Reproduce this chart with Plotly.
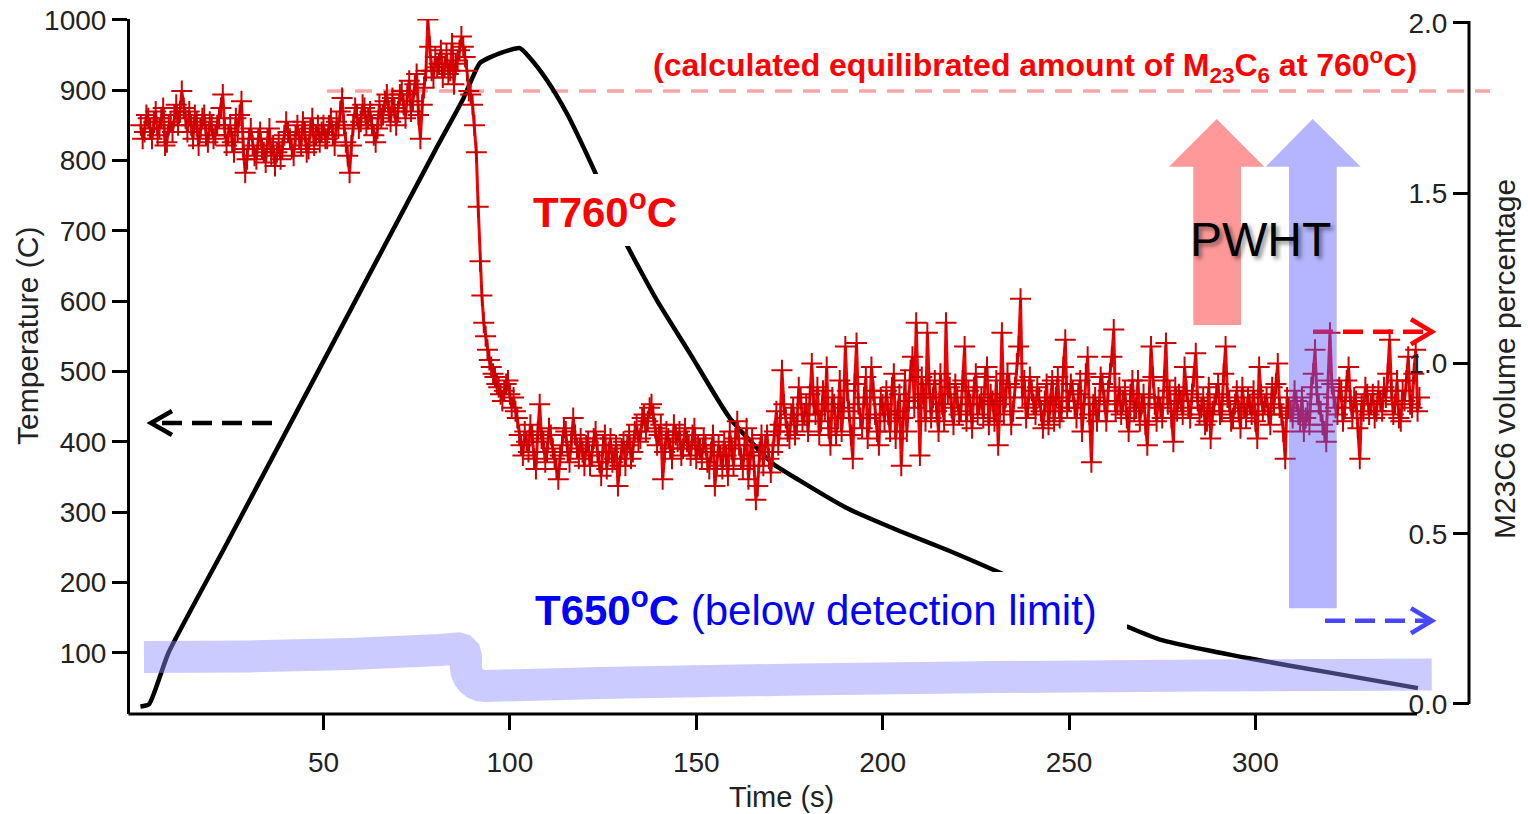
import plotly.graph_objects as go

# ---------------- data ----------------
# Thermal cycle (left axis, temperature in C)
black_t = [0.9, 3.2, 8.4, 23.5, 50, 80, 87.5, 92, 97.4, 102.7, 105.4, 110, 115.3, 122.3,
           131.4, 139.5, 148.3, 159, 170.6, 177.8, 190.4, 204.7, 218, 231.5, 245,
           265.8, 274.4, 298.6, 320, 343.6]
black_T = [24, 27, 100, 250, 515, 815, 888, 939, 953, 960, 946, 914, 867, 790,
           680, 601, 526, 434, 369, 345, 306, 273, 245, 214, 181,
           137, 119, 92, 72, 50]

# M23C6 volume percentage for T760C (right axis), samples at whole seconds t = 1..344 s
red_v_whole = [
    1.70, 1.68, 1.72, 1.66, 1.74, 1.69, 1.75, 1.65, 1.71, 1.73,
    1.70, 1.80, 1.72, 1.74, 1.66, 1.71, 1.69, 1.73, 1.65, 1.70,
    1.67, 1.72, 1.79, 1.64, 1.70, 1.62, 1.68, 1.77, 1.56, 1.66,
    1.64, 1.60, 1.68, 1.62, 1.66, 1.61, 1.58, 1.65, 1.63, 1.71,
    1.66, 1.61, 1.70, 1.64, 1.68, 1.63, 1.72, 1.67, 1.65, 1.70,
    1.66, 1.72, 1.64, 1.69, 1.78, 1.65, 1.56, 1.70, 1.73, 1.71,
    1.75, 1.72, 1.70, 1.65, 1.76, 1.73, 1.79, 1.71, 1.75, 1.74,
    1.80, 1.72, 1.83, 1.77, 1.85, 1.66, 1.81, 2.01, 1.86, 1.90,
    1.88, 1.84, 1.91, 1.86, 1.82, 1.89, 1.96, 1.90, 1.80, 1.76,
    1.62, 1.30, 1.12, 1.04, 0.99, 0.96, 0.93, 0.89, 0.94, 0.91,
    0.90, 0.84, 0.76, 0.80, 0.74, 0.79, 0.69, 0.88, 0.77, 0.74,
    0.79, 0.72, 0.66, 0.76, 0.80, 0.71, 0.84, 0.75, 0.78, 0.70,
    0.77, 0.73, 0.80, 0.71, 0.76, 0.69, 0.78, 0.72, 0.64, 0.75,
    0.70, 0.79, 0.74, 0.82, 0.78, 0.85, 0.83, 0.88, 0.81, 0.79,
    0.66, 0.80, 0.75, 0.82, 0.77, 0.73, 0.81, 0.76, 0.79, 0.72,
    0.75, 0.78, 0.71, 0.74, 0.64, 0.76, 0.69, 0.73, 0.80, 0.70,
    0.83, 0.72, 0.76, 0.66, 0.78, 0.60, 0.74, 0.70, 0.79, 0.68,
    0.80, 0.76, 0.98, 0.84, 0.78, 0.87, 0.82, 0.90, 0.85, 0.80,
    1.00, 0.85, 0.79, 0.92, 0.99, 0.76, 0.88, 0.84, 0.80, 1.05,
    0.86, 0.72, 1.06, 0.84, 0.90, 0.78, 0.99, 0.85, 0.76, 0.88,
    0.92, 0.80, 0.97, 0.86, 0.70, 0.95, 0.89, 1.02, 1.12, 0.73,
    0.91, 1.09, 0.84, 0.95, 0.80, 0.88, 1.12, 0.93, 0.82, 0.90,
    0.86, 1.05, 0.92, 0.81, 0.97, 0.88, 0.84, 0.99, 0.91, 0.83,
    0.76, 1.09, 0.90, 0.94, 0.86, 1.00, 1.19, 0.95, 0.87, 0.92,
    0.85, 0.90, 0.81, 0.94, 0.88, 0.83, 0.96, 0.86, 1.07, 0.89,
    0.92, 0.84, 0.95, 0.88, 1.02, 0.71, 0.90, 0.86, 0.94, 0.83,
    0.97, 1.10, 0.88, 0.85, 0.92, 0.80, 0.95, 0.87, 0.83, 0.91,
    0.76, 1.05, 0.88, 0.90, 0.84, 1.06, 0.92, 0.77, 0.86, 0.89,
    0.99, 0.87, 0.91, 1.03, 0.85, 0.90, 0.83, 0.78, 0.88, 0.94,
    0.86, 1.05, 0.89, 0.84, 0.92, 0.81, 0.87, 0.90, 0.85, 0.83,
    0.99, 0.86, 0.90, 0.82, 0.88, 1.00, 0.85, 0.72, 0.87, 0.84,
    0.89, 0.83, 0.80, 0.86, 0.93, 1.04, 0.88, 0.82, 0.77, 1.09,
    0.90, 0.85, 0.92, 0.87, 0.99, 0.84, 0.89, 0.72, 0.86, 0.91,
    0.88, 0.84, 0.92, 0.86, 0.90, 1.07, 0.85, 0.95, 0.83, 0.89,
    1.02, 0.87, 1.04, 0.90,
]
# samples at half seconds t = 1.5 .. 343.5 s
red_v_half = [
    1.66, 1.73, 1.69, 1.71, 1.67, 1.72, 1.64, 1.70, 1.68, 1.76,
    1.74, 1.75, 1.68, 1.70, 1.73, 1.64, 1.72, 1.67, 1.71, 1.66,
    1.70, 1.75, 1.69, 1.67, 1.65, 1.72, 1.73, 1.63, 1.60, 1.69,
    1.61, 1.66, 1.63, 1.59, 1.69, 1.64, 1.62, 1.60, 1.67, 1.68,
    1.63, 1.67, 1.66, 1.71, 1.62, 1.69, 1.64, 1.70, 1.68, 1.66,
    1.70, 1.67, 1.71, 1.74, 1.70, 1.61, 1.64, 1.75, 1.69, 1.76,
    1.70, 1.74, 1.67, 1.69, 1.72, 1.77, 1.74, 1.78, 1.70, 1.79,
    1.76, 1.79, 1.74, 1.82, 1.73, 1.76, 1.86, 1.93, 1.84, 1.87,
    1.92, 1.87, 1.85, 1.94, 1.88, 1.92, 1.93, 1.86, 1.79, 1.70,
    1.46, 1.20, 1.08, 1.01, 0.97, 0.94, 0.91, 0.92, 0.95, 0.87,
    0.86, 0.79, 0.73, 0.77, 0.82, 0.72, 0.80, 0.78, 0.71, 0.81,
    0.75, 0.69, 0.73, 0.81, 0.74, 0.77, 0.79, 0.72, 0.74, 0.76,
    0.70, 0.78, 0.74, 0.67, 0.79, 0.74, 0.71, 0.76, 0.70, 0.77,
    0.76, 0.72, 0.80, 0.77, 0.84, 0.80, 0.87, 0.85, 0.76, 0.82,
    0.74, 0.78, 0.72, 0.79, 0.80, 0.75, 0.77, 0.73, 0.81, 0.76,
    0.72, 0.76, 0.69, 0.79, 0.70, 0.73, 0.77, 0.67, 0.75, 0.78,
    0.76, 0.69, 0.81, 0.73, 0.70, 0.64, 0.79, 0.76, 0.72, 0.74,
    0.86, 0.82, 0.88, 0.80, 0.85, 0.79, 0.93, 0.83, 0.88, 0.91,
    0.88, 0.93, 0.83, 0.86, 0.81, 0.90, 0.79, 0.95, 0.87, 0.92,
    0.79, 0.94, 0.88, 0.81, 0.96, 0.84, 0.92, 0.80, 0.90, 0.83,
    0.85, 0.93, 0.78, 0.91, 0.84, 0.80, 0.98, 0.87, 0.90, 0.96,
    0.83, 0.94, 0.90, 0.86, 0.97, 0.83, 0.91, 0.87, 0.94, 0.85,
    0.95, 0.83, 0.88, 0.93, 0.85, 0.90, 0.96, 0.82, 0.89, 0.95,
    0.88, 0.85, 0.97, 0.82, 0.93, 1.05, 0.90, 0.84, 0.96, 0.88,
    0.93, 0.86, 0.89, 0.82, 0.95, 0.90, 0.84, 0.99, 0.87, 0.94,
    0.87, 0.91, 0.80, 0.97, 0.85, 0.88, 0.83, 0.96, 0.89, 0.92,
    1.02, 0.86, 0.93, 0.89, 0.84, 0.91, 0.86, 0.95, 0.88, 0.82,
    0.90, 0.96, 0.83, 0.87, 0.95, 0.88, 0.84, 0.93, 0.91, 0.85,
    0.92, 0.84, 0.96, 0.89, 0.87, 0.82, 0.93, 0.86, 0.91, 0.85,
    0.97, 0.90, 0.83, 0.88, 0.86, 0.93, 0.84, 0.88, 0.92, 0.78,
    0.91, 0.88, 0.85, 0.93, 0.94, 0.87, 0.80, 0.90, 0.86, 0.92,
    0.85, 0.90, 0.84, 0.82, 0.97, 0.91, 0.86, 0.80, 0.95, 0.94,
    0.87, 0.93, 0.83, 0.95, 0.89, 0.90, 0.81, 0.88, 0.93, 0.85,
    0.91, 0.86, 0.89, 0.93, 0.97, 0.92, 0.88, 0.84, 0.92, 0.95,
    0.88, 0.97, 0.86,
]
red_t_whole = list(range(1, 345))
red_t_half = [s + 0.5 for s in range(1, 344)]
red_pairs = sorted(zip(red_t_whole + red_t_half, red_v_whole + red_v_half))
red_t = [p[0] for p in red_pairs]
red_v = [p[1] for p in red_pairs]

# T650C highlight band (drawn on the temperature axis)
band_t = [1.85, 30.3, 57.1, 81.2, 86.07, 87.14, 87.93, 88.21, 88.21, 88.39, 88.90,
          89.71, 90.76, 91.99, 93.31, 124.2, 177.8, 231.4, 285.1, 347.3]
band_T = [94.3, 95.0, 98.5, 104.2, 106.35, 104.83, 100.66, 94.98, 80.05, 73.08, 66.54,
          61.0, 56.66, 53.96, 53.03, 57.3, 62.3, 65.8, 68.0, 69.4]

EQUILIBRATED = 1.8          # calculated equilibrated amount of M23C6 at 760C
x_ticks = [50, 100, 150, 200, 250, 300]
y2_ticks = [0, 0.5, 1.0, 1.5, 2.0]
y2_labels = ["0.0", "0.5", "1.0", "1.5", "2.0"]

# ---------------- layout geometry ----------------
W, H = 1528, 814
L, R, T, B = 130, 1469, 19, 714      # plot area in pixels


def PX(x):
    return (x - L) / (R - L)


def PY(y):
    return (B - y) / (B - T)


FONT = "Liberation Sans, Arial, Helvetica, sans-serif"
TICKC = "#222222"

fig = go.Figure()
fig.add_trace(go.Scatter(x=black_t, y=black_T, mode="lines", yaxis="y",
                         line=dict(color="black", width=4.5, shape="spline",
                                   smoothing=0.5), hoverinfo="skip"))
fig.add_trace(go.Scatter(x=band_t, y=band_T, mode="lines", yaxis="y",
                         line=dict(color="rgba(140,140,255,0.45)", width=32,
                                   simplify=False),
                         hoverinfo="skip"))
fig.add_trace(go.Scatter(x=red_t, y=red_v, mode="lines+markers", yaxis="y2",
                         line=dict(color="#f00000", width=3),
                         marker=dict(symbol="cross-thin", size=15,
                                     line=dict(color="#cc0000", width=2))))

shapes = []
# dashed equilibrium line
shapes.append(dict(type="line", xref="paper", yref="y2", x0=PX(327), x1=PX(1490),
                   y0=EQUILIBRATED, y1=EQUILIBRATED, layer="below",
                   line=dict(color="rgb(250,165,165)", width=3.5, dash="17px,11px")))
# bottom axis line and right axis line
shapes.append(dict(type="line", xref="paper", yref="paper", x0=PX(128.5), x1=PX(1417),
                   y0=0, y1=0, line=dict(color="black", width=3)))
shapes.append(dict(type="line", xref="paper", yref="y2", x0=1, x1=1, y0=0, y1=2.006,
                   line=dict(color="black", width=3)))


def path(pts):
    return "M " + " L ".join(f"{PX(x):.5f},{PY(y):.5f}" for x, y in pts)


# white boxes behind the two temperature labels
shapes.append(dict(type="rect", xref="paper", yref="paper", layer="above",
                   x0=PX(522), x1=PX(690), y0=PY(246), y1=PY(174),
                   fillcolor="white", line=dict(width=0)))
shapes.append(dict(type="rect", xref="paper", yref="paper", layer="above",
                   x0=PX(515), x1=PX(1127), y0=PY(636), y1=PY(572),
                   fillcolor="white", line=dict(width=0)))
# red PWHT block arrow
shapes.append(dict(type="path", xref="paper", yref="paper", layer="above",
                   path=path([(1193.3, 325), (1193.3, 166.7), (1169, 166.7), (1216.7, 119),
                              (1264.3, 166.7), (1241, 166.7), (1241, 325)]) + " Z",
                   fillcolor="#ff9999", line=dict(width=0)))
# dashed arrows
for (x0, x1, y, col) in [(272, 156, 423, "black"), (1313, 1428, 331.7, "#ff0000"),
                         (1325, 1428, 620.7, "#4646ff")]:
    shapes.append(dict(type="line", xref="paper", yref="paper", layer="above",
                       x0=PX(x0), x1=PX(x1), y0=PY(y), y1=PY(y),
                       line=dict(color=col, width=4.5, dash="20px,10px")))
    if x1 < x0:
        pts = [(172, y - 12), (151, y), (172, y + 12)]
    else:
        pts = [(1411, y - 12.5), (1432, y), (1411, y + 12.5)]
    shapes.append(dict(type="path", xref="paper", yref="paper", layer="above",
                       path=path(pts), line=dict(color=col, width=4.5)))
# blue PWHT block arrow (semi-transparent, above the data)
shapes.append(dict(type="path", xref="paper", yref="paper", layer="above",
                   path=path([(1289, 608.3), (1289, 166.7), (1265.7, 166.7), (1312.7, 119),
                              (1360.7, 166.7), (1336.7, 166.7), (1336.7, 608.3)]) + " Z",
                   fillcolor="rgba(90,90,255,0.45)", line=dict(width=0)))

annotations = [
    dict(text="Temperature (C)", x=PX(27), y=PY(336), textangle=-90,
         font=dict(size=30, color=TICKC)),
    dict(text="M23C6 volume percentage", x=PX(1505), y=PY(359), textangle=-90,
         font=dict(size=30, color=TICKC)),
    dict(text="Time (s)", x=PX(781), y=PY(797), font=dict(size=29, color=TICKC)),
    dict(text="<b>(calculated equilibrated amount of M<sub>23</sub>C<sub>6</sub> at 760<sup>o</sup>C)</b>",
         x=PX(1035), y=PY(65), font=dict(size=32, color="#ff0000")),
    dict(text="<b>T760<sup>o</sup>C</b>", x=PX(605), y=PY(209),
         font=dict(size=42, color="#ff0000")),
    dict(text="PWHT", x=PX(1260), y=PY(239),
         font=dict(size=48, color="black", shadow="3px 3px 4px rgba(0,0,0,0.45)")),
    dict(text="<b>T650<sup>o</sup>C</b> (below detection limit)", x=PX(533), y=PY(607),
         xanchor="left", font=dict(size=42, color="#0000ff")),
]
for a in annotations:
    a.setdefault("xref", "paper")
    a.setdefault("yref", "paper")
    a.setdefault("showarrow", False)
    a.setdefault("xanchor", "center")
    a.setdefault("yanchor", "middle")

fig.update_layout(
    width=W, height=H,
    margin=dict(l=L, r=W - R, t=T, b=H - B, pad=0, autoexpand=False),
    paper_bgcolor="white", plot_bgcolor="white",
    showlegend=False,
    font=dict(family=FONT, color=TICKC),
    xaxis=dict(range=[-1.9, 357.3], showline=False, showgrid=False, zeroline=False,
               automargin=False,
               ticks="outside", ticklen=15, tickwidth=3, tickcolor="black",
               tickvals=x_ticks, ticklabelstandoff=8,
               tickfont=dict(size=28, color=TICKC)),
    yaxis=dict(range=[13.2, 1001.4], showline=True, linewidth=3, linecolor="black",
               automargin=False,
               showgrid=False, zeroline=False, ticks="outside", ticklen=15,
               tickwidth=3, tickcolor="black", tick0=0, dtick=100,
               tickfont=dict(size=28, color=TICKC)),
    yaxis2=dict(range=[-0.0294, 2.0117], overlaying="y", side="left", anchor="free",
                position=1.0, showline=False, showgrid=False, zeroline=False,
                automargin=False,
                ticks="outside", ticklen=16, tickwidth=3, tickcolor="black",
                tickvals=y2_ticks, ticktext=y2_labels,
                tickfont=dict(size=28, color=TICKC)),
    shapes=shapes,
    annotations=annotations,
)

fig.write_html("out.html")
